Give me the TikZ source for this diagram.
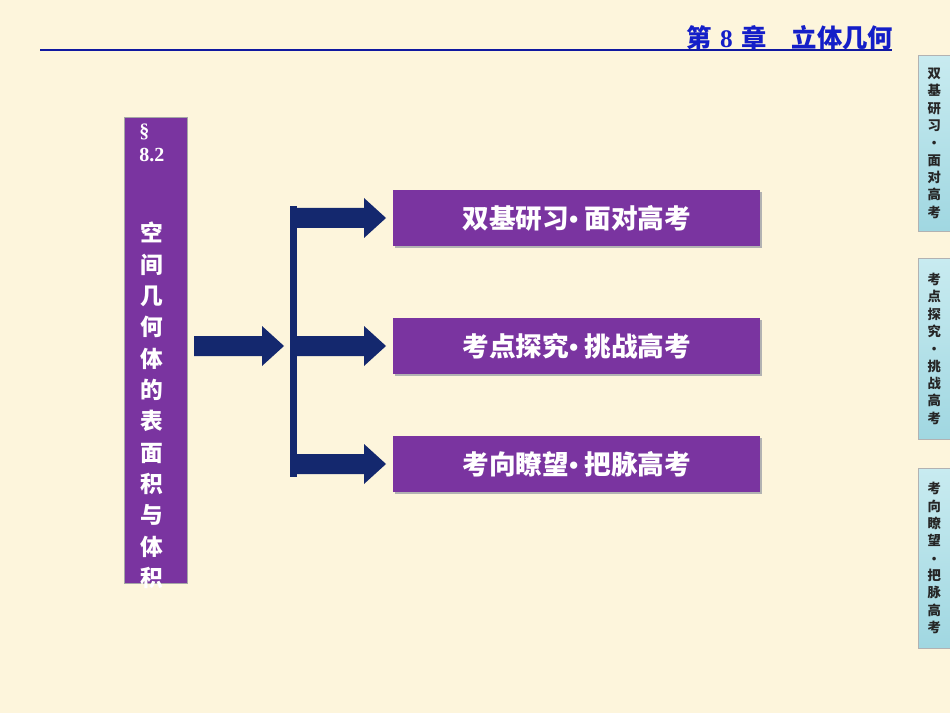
\documentclass[tikz,border=0pt]{standalone}
\usepackage{fontspec}
\newfontfamily\cjk{Noto Sans CJK SC}
\setmainfont{Liberation Serif}
\begin{document}
\begin{tikzpicture}[x=0.75pt,y=-0.75pt,
  purp/.style={fill=violet!75!magenta!70!blue, draw=none},
  arr/.style={fill={rgb,255:red,20;green,40;blue,110}},
  tab/.style={draw=gray!60, top color={rgb,255:red,200;green,235;blue,240}, bottom color={rgb,255:red,160;green,215;blue,225}},
  tabtxt/.style={font=\cjk\bfseries\fontsize{10}{13}\selectfont, align=center, text=black!85}]
\definecolor{bg}{RGB}{253,245,220}
\definecolor{pp}{RGB}{122,52,160}
\definecolor{ttl}{RGB}{20,30,200}
\fill[bg] (0,0) rectangle (950,713);
\useasboundingbox (0,0) rectangle (950,713);
% header
\draw[line width=2.2pt, ttl!80!black] (40,50) -- (892,50);
\node[anchor=north west, text=ttl, font=\cjk\bfseries\fontsize{19}{23}\selectfont, text width=215pt, align=left, inner sep=0] (title) at (686,25) {第 {\rmfamily 8} 章\quad 立体几何};
% left box
\fill[pp, draw=gray!70] (124,117) rectangle (187,583);
\node[anchor=north west, text=white, inner sep=0, font=\bfseries\fontsize{15}{18}\selectfont, align=left] (sec) at (139,124) {§\\8.2};
\node[anchor=north, text=white, inner sep=0, font=\cjk\bfseries\fontsize{17}{23.5}\selectfont, align=center] (vt) at (152,222) {空\\间\\几\\何\\体\\的\\表\\面\\积\\与\\体\\积};
% right boxes
\foreach \y/\t/\n in {190/双基研习{\rmfamily\textbullet} 面对高考/b1, 318/考点探究{\rmfamily\textbullet} 挑战高考/b2, 436/考向瞭望{\rmfamily\textbullet} 把脉高考/b3}{
  \fill[black!30] (395,\y+2) rectangle (762,\y+58);
  \node[fill=pp, minimum width=275.25pt, minimum height=42pt, anchor=north west, inner sep=0, text=white, font=\cjk\bfseries\fontsize{20}{24}\selectfont] (\n) at (393,\y) {\t};
}
% arrows
\fill[arr] (194,336) -- (262,336) -- (262,326) -- (284,346) -- (262,366) -- (262,356) -- (194,356) -- cycle;
\fill[arr] (290,206) rectangle (297,477);
\foreach \y in {218,346,464}{
  \fill[arr] (297,\y-10) -- (364,\y-10) -- (364,\y-20) -- (386,\y) -- (364,\y+20) -- (364,\y+10) -- (297,\y+10) -- cycle;
}
% tabs
\node[tab, minimum width=24pt, minimum height=132pt, anchor=north west, inner sep=0] (t1) at (918,55) {};
\node[tabtxt] at (t1) {双\\基\\研\\习\\{\rmfamily\textbullet}\\面\\对\\高\\考};
\node[tab, minimum width=24pt, minimum height=136pt, anchor=north west, inner sep=0] (t2) at (918,258) {};
\node[tabtxt] at (t2) {考\\点\\探\\究\\{\rmfamily\textbullet}\\挑\\战\\高\\考};
\node[tab, minimum width=24pt, minimum height=135pt, anchor=north west, inner sep=0] (t3) at (918,468) {};
\node[tabtxt] at (t3) {考\\向\\瞭\\望\\{\rmfamily\textbullet}\\把\\脉\\高\\考};
\end{tikzpicture}
\end{document}
